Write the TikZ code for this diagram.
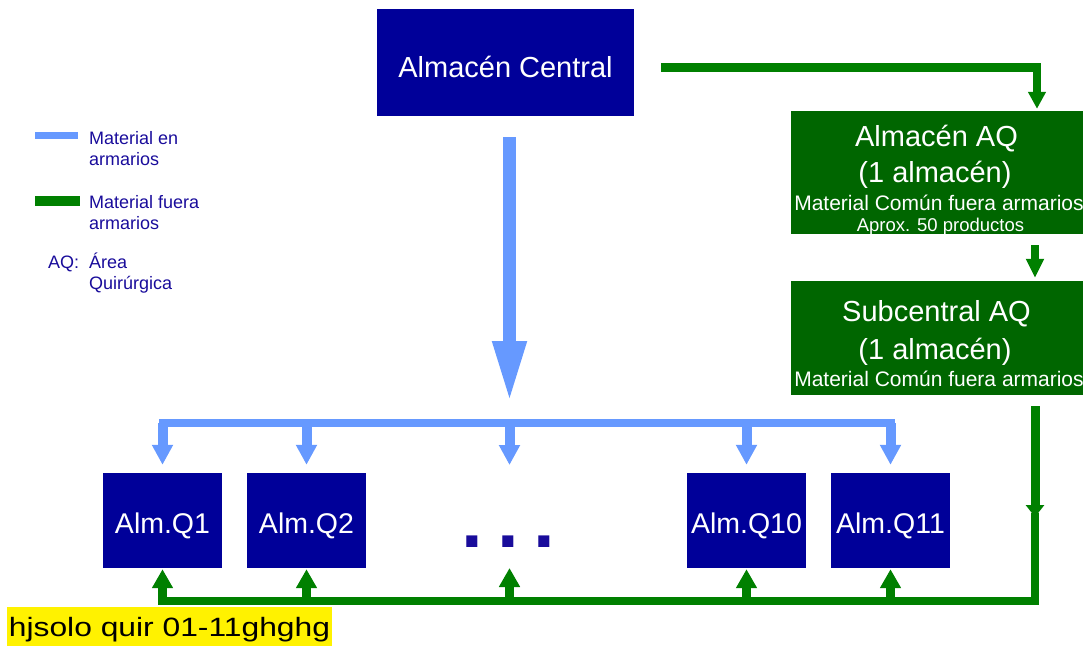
\documentclass[tikz,border=0pt]{standalone}
\usepackage{fontspec}
\setmainfont{Liberation Sans}
\newfontfamily\widefont[FakeStretch=1.2]{Liberation Sans}
\usetikzlibrary{arrows.meta}
\definecolor{navybox}{RGB}{0,0,153}
\definecolor{greenbox}{RGB}{0,102,0}
\definecolor{greenline}{RGB}{0,128,0}
\definecolor{lightblue}{RGB}{102,153,255}
\definecolor{legendtext}{RGB}{25,12,155}
\tikzset{
  navynode/.style={fill=navybox, draw=none, text=white, inner sep=0pt},
  qbox/.style={navynode, minimum width=119pt, minimum height=95pt, text height=25.6pt, text depth=0pt, font=\fontsize{28.5}{32}\selectfont},
  gbox/.style={fill=greenbox, draw=none, inner sep=0pt, minimum width=292pt},
  boxtext/.style={text=white, inner sep=0pt, anchor=base},
  legendtxt/.style={text=legendtext, inner sep=0pt, anchor=base west, align=left, font=\fontsize{18}{21}\selectfont},
  bigblue/.style={draw=lightblue, line width=13pt, -{Triangle[length=62pt,width=31pt]}},
  blueline/.style={draw=lightblue, line width=8pt, line cap=rect},
  smallblue/.style={draw=lightblue, line width=10pt, -{Triangle[length=20pt,width=20pt]}},
  gline/.style={draw=greenline, line width=9pt},
  gsmall/.style={draw=greenline, line width=9pt, -{Triangle[length=19pt,width=20pt]}},
}
\begin{document}
\begin{tikzpicture}[x=1pt, y=-1pt]
\useasboundingbox (0,0) rectangle (1087,646);

% main nodes
\node[navynode, minimum width=257pt, minimum height=107pt, text height=29pt, text depth=0pt, font=\fontsize{29}{34}\selectfont] (central) at (505.5,62.5) {Almacén Central};

\node[gbox, minimum height=123pt] (aq) at (936.5,172.5) {};
\node[boxtext, font=\fontsize{29}{34}\selectfont] (aqt1) at (936.5,146) {Almacén AQ};
\node[boxtext, font=\fontsize{29}{34}\selectfont] (aqt2) at (935,182) {(1 almacén)};
\node[boxtext, font=\fontsize{21}{25}\selectfont] (aqt3) at (939,210) {Material Común fuera armarios};
\node[boxtext, font=\fontsize{18.5}{22}\selectfont] (aqt4) at (940.5,231) {Aprox. 50 productos};

\node[gbox, minimum height=114pt] (sub) at (936.5,338) {};
\node[boxtext, font=\fontsize{29}{34}\selectfont] (subt1) at (936.5,321) {Subcentral AQ};
\node[boxtext, font=\fontsize{29}{34}\selectfont] (subt2) at (935,359) {(1 almacén)};
\node[boxtext, font=\fontsize{21}{25}\selectfont] (subt3) at (939,386) {Material Común fuera armarios};

\node[qbox] (q1) at (162.5,520.5) {Alm.Q1};
\node[qbox] (q2) at (306.5,520.5) {Alm.Q2};
\node[qbox] (q10) at (746.5,520.5) {Alm.Q10};
\node[qbox] (q11) at (890.5,520.5) {Alm.Q11};

\node[text=legendtext, inner sep=0pt, anchor=base, font=\bfseries\fontsize{78}{80}\selectfont] (dots) at (508.5,547) {.\hspace{14.3pt}.\hspace{14.3pt}.};

% coordinates
\coordinate (bar) at (509.5,423);
\coordinate (midtip) at (509.5,465);
\coordinate (midbot) at (509.5,568);
\coordinate (gcorner) at (1037,67.5);
\coordinate (gx) at (1035,250);
\coordinate (gmid) at (1035,517);
\coordinate (gbot) at (1035,601);

% blue flow
\draw[bigblue, shorten <=21pt, shorten >=20pt] (central.south -| bar) -- (bar);
\draw[blueline] (q1 |- bar) -- (q11 |- bar);
\foreach \q in {q1,q2,q10,q11}
  \draw[smallblue, shorten >=8pt] (\q |- bar) -- (\q.north);
\draw[smallblue] (bar) -- (midtip);

% green flow
\draw[gline, line width=8.5pt, shorten <=27pt, shorten >=2pt, -{Triangle[length=17pt,width=17pt]}] (central.east |- gcorner) -- (gcorner) -- (aq.north -| gcorner);
\draw[gline, line width=8pt, shorten <=11pt, shorten >=3pt, -{Triangle[length=19pt,width=17pt]}] (aq.south -| gx) -- (sub.north -| gx);
\draw[gline, shorten <=11pt, -{Triangle[length=12pt,width=18pt]}] (sub.south -| gmid) -- (gmid);
\draw[gline, line width=8.5pt, line cap=rect] (gmid) -- (gbot) -- (q1 |- gbot);
\foreach \q in {q1,q2,q10,q11}
  \draw[gsmall, shorten >=1pt] (\q |- gbot) -- (\q.south);
\draw[gsmall] (midbot |- gbot) -- (midbot);

% legend
\coordinate (lb1) at (35,135.5);
\coordinate (lb2) at (78,135.5);
\coordinate (lg1) at (35,201);
\coordinate (lg2) at (80,201);
\draw[lightblue, line width=7pt] (lb1) -- (lb2);
\draw[greenline, line width=10pt] (lg1) -- (lg2);
\node[legendtxt] (leg1) at (89,165) {Material en\\armarios};
\node[legendtxt] (leg2) at (89,229) {Material fuera\\armarios};
\node[legendtxt] (leg3a) at (48,268) {AQ:};
\node[legendtxt] (leg3) at (89,289) {Área\\Quirúrgica};

% note
\node[fill=yellow, text=black, inner sep=0pt, minimum width=325pt, minimum height=39pt, text height=19pt, text depth=0pt, font=\widefont\fontsize{26.5}{30}\selectfont] (note) at (169.5,626.5) {hjsolo quir 01-11ghghg};
\end{tikzpicture}
\end{document}
